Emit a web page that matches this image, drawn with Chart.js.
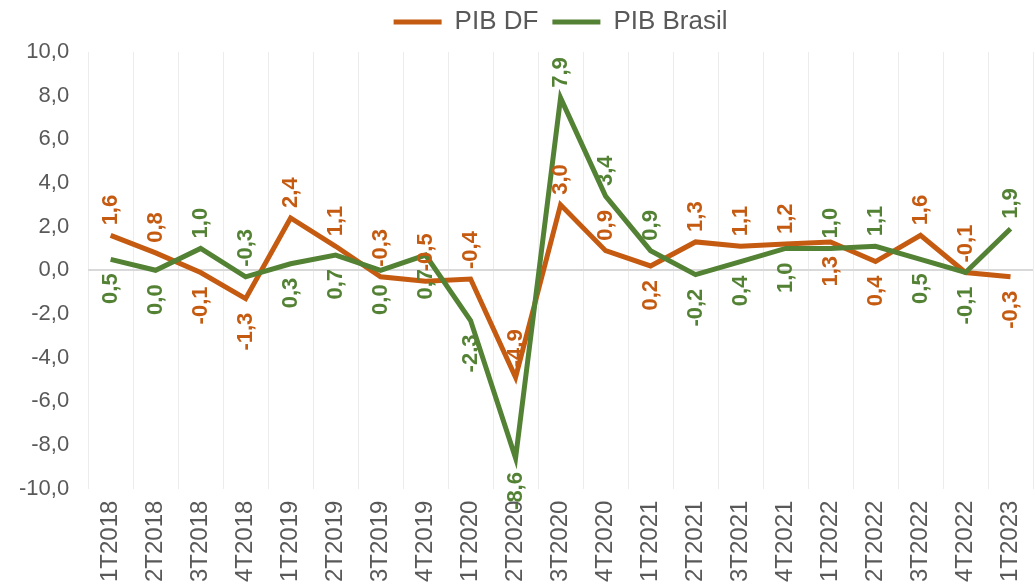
<!DOCTYPE html>
<html>
<head>
<meta charset="utf-8">
<script src="https://cdn.jsdelivr.net/npm/chart.js@4"></script>
<style>
  html, body { margin: 0; padding: 0; background: #fff; overflow: hidden; }
  #wrap { width: 1035px; height: 594px; position: relative; }
</style>
</head>
<body>
<div id="wrap"><canvas id="grafico"></canvas></div>
<script>
  /* PIB trimestral - DF x Brasil */
  var trimestres = ['1T2018', '2T2018', '3T2018', '4T2018', '1T2019', '2T2019', '3T2019', '4T2019',
      '1T2020', '2T2020', '3T2020', '4T2020', '1T2021', '2T2021', '3T2021', '4T2021',
      '1T2022', '2T2022', '3T2022', '4T2022', '1T2023'];
  var pibDF = [1.6, 0.8, -0.1, -1.3, 2.4, 1.1, -0.3, -0.5, -0.4, -4.9, 3.0, 0.9, 0.2, 1.3, 1.1, 1.2, 1.3, 0.4, 1.6, -0.1, -0.3];
  var pibBrasil = [0.5, 0.0, 1.0, -0.3, 0.3, 0.7, 0.0, 0.7, -2.3, -8.6, 7.9, 3.4, 0.9, -0.2, 0.4, 1.0, 1.0, 1.1, 0.5, -0.1, 1.9];
  var rotulosY = ['-10,0', '-8,0', '-6,0', '-4,0', '-2,0', '0,0', '2,0', '4,0', '6,0', '8,0', '10,0'];

  // lado do rotulo: 1 = acima, -1 = abaixo
  var ladoDF = [1, 1, -1, -1, 1, 1, 1, 1, 1, 1, 1, 1, -1, 1, 1, 1, -1, -1, 1, 1, -1];
  var ladoBrasil = [-1, -1, 1, 1, -1, -1, -1, -1, -1, -1, 1, 1, 1, -1, -1, -1, 1, 1, -1, -1, 1];

  var corDF = '#C55A11';
  var corBrasil = '#548235';
  var cinza = '#595959';
  var fonte = '"Liberation Sans", Arial, sans-serif';

  // rotulos de dados girados
  var rotulosPlugin = {
      id: 'rotulos',
      afterLayout: function(chart) {
          // legenda centralizada sobre a area do grafico, um pouco mais alta
          var desloc = (chart.chartArea.left - chart.legend.left) / 2;
          chart.legend.left += desloc;
          chart.legend.right += desloc;
          chart.legend.top -= 7;
          chart.legend.bottom -= 7;
      },
      afterDatasetsDraw: function(chart) {
          var ctx = chart.ctx;
          chart.data.datasets.forEach(function(ds, di) {
              var meta = chart.getDatasetMeta(di);
              var lados = di === 0 ? ladoDF : ladoBrasil;
              meta.data.forEach(function(pt, i) {
                  var txt = ds.data[i].toFixed(1).replace('.', ',');
                  ctx.save();
                  ctx.translate(pt.x, pt.y);
                  ctx.rotate(-Math.PI / 2);
                  ctx.font = 'bold 22px ' + fonte;
                  ctx.fillStyle = ds.borderColor;
                  ctx.textBaseline = 'middle';
                  if (lados[i] > 0) {
                      ctx.textAlign = 'left';
                      ctx.fillText(txt, 10, 0);
                  } else {
                      ctx.textAlign = 'right';
                      ctx.fillText(txt, -14, 0);
                  }
                  ctx.restore();
              });
          });
      }
  };

  const ctx = document.getElementById('grafico').getContext('2d');
  const myChart = new Chart(ctx, {
      type: 'line',
      data: {
          labels: trimestres,
          datasets: [{
              label: 'PIB DF',
              data: pibDF,
              borderColor: corDF,
              backgroundColor: corDF,
              borderWidth: 5,
              pointRadius: 0,
              tension: 0,
              order: 1
          }, {
              label: 'PIB Brasil',
              data: pibBrasil,
              borderColor: corBrasil,
              backgroundColor: corBrasil,
              borderWidth: 5,
              pointRadius: 0,
              tension: 0,
              order: 0
          }]
      },
      options: {
          responsive: true,
          maintainAspectRatio: false,
          animation: false,
          layout: {
              padding: { left: 0, right: 2, top: 2, bottom: 0 }
          },
          plugins: {
              tooltip: { enabled: false },
              legend: {
                  position: 'top',
                  labels: {
                      color: cinza,
                      font: { family: fonte, size: 26 },
                      boxWidth: 48,
                      boxHeight: 5,
                      padding: 14,
                      sort: function(a, b) { return a.datasetIndex - b.datasetIndex; },
                      generateLabels: function(chart) {
                          var items = Chart.defaults.plugins.legend.labels.generateLabels(chart);
                          items.forEach(function(it) {
                              it.fillStyle = it.strokeStyle;
                              it.lineWidth = 0;
                          });
                          return items;
                      }
                  }
              }
          },
          scales: {
              x: {
                  offset: true,
                  afterFit: function(scale) {
                      scale.paddingRight = 0;
                  },
                  grid: {
                      offset: true,
                      color: '#ececec',
                      lineWidth: 1,
                      drawTicks: false
                  },
                  border: { display: false },
                  ticks: {
                      color: cinza,
                      font: { family: fonte, size: 24 },
                      minRotation: 90,
                      maxRotation: 90,
                      autoSkip: false,
                      padding: 12
                  }
              },
              y: {
                  min: -10,
                  max: 10,
                  grid: {
                      color: function(c) { return c.tick && c.tick.value === 0 ? '#d9d9d9' : 'rgba(0,0,0,0)'; },
                      lineWidth: 2,
                      drawTicks: false
                  },
                  border: { display: false },
                  ticks: {
                      stepSize: 2,
                      color: cinza,
                      font: { family: fonte, size: 22 },
                      padding: 19,
                      callback: function(value, index) { return rotulosY[index]; }
                  }
              }
          }
      },
      plugins: [rotulosPlugin]
  });
</script>
</body>
</html>
